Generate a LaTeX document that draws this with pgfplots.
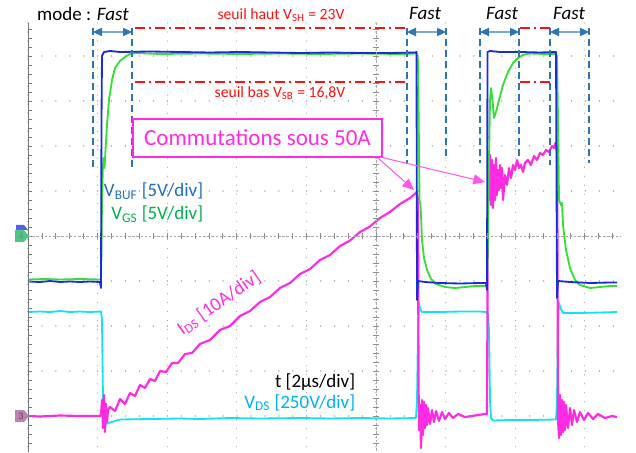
\documentclass[border=0pt]{standalone}
\usepackage{pgfplots}
\pgfplotsset{compat=1.18}
\usepackage{fontspec}
\setmainfont{Carlito}
\usetikzlibrary{arrows.meta}
\definecolor{cbuf}{HTML}{1A2ED8}
\definecolor{cgs}{HTML}{33E033}
\definecolor{cds}{HTML}{14E2EE}
\definecolor{cid}{HTML}{FF2BE3}
\definecolor{lbuf}{HTML}{1F6FC4}
\definecolor{lgs}{HTML}{00B050}
\definecolor{lds}{HTML}{00B0F0}
\definecolor{dblue}{HTML}{2E75B6}
\definecolor{lblue}{HTML}{7FA8DA}
\definecolor{gridc}{HTML}{A8A8A8}
\definecolor{thr}{HTML}{FF1010}
\newcommand\fsmall{\fontsize{9.4}{11}\selectfont}
\newcommand\fmid{\fontsize{11.4}{13}\selectfont}
\newcommand\fbig{\fontsize{13.8}{16}\selectfont}
\begin{document}
\begin{tikzpicture}
\path[use as bounding box] (0,0) rectangle (381.6pt,-271.8pt);
\begin{axis}[
  at={(16.8pt,-271.2pt)}, anchor=south west,
  scale only axis, width=355.2pt, height=257.4pt,
  xmin=28, xmax=620, ymin=23, ymax=452, y dir=reverse,
  axis line style={draw=none}, tick style={draw=none},
  xtick={28,97.6,167.2,236.8,306.4,376,445.6,515.2,584.8},
  ytick={56,101,146,191,236,281,326,371,416},
  xticklabels={}, yticklabels={},
  grid=major,
  major x grid style={gridc, line width=0.8pt, line cap=round, dash pattern=on 0.01pt off 5.4pt},
  major y grid style={gridc, line width=0.8pt, line cap=round, dash pattern=on 0.01pt off 8.352pt},
  every axis plot/.append style={line width=1.1pt, line join=round},
]
% V_DS (cyan)
\addplot[cds, mark=none] coordinates {
(28,312) (40,311.5) (50,312) (60,311) (70,312) (80,311.5) (90,312) (101,311.5) (102,320) (103,400) (104,420) (106,424) (110,422.5)
(120,419.5) (150,419) (180,418.5) (200,419) (230,418) (260,418.5) (300,418) (330,418.5) (360,418) (390,418.5) (416,418)
(417,400) (418,330) (419,303) (420,309) (422,312) (440,312) (460,311.5) (480,311.5) (486,312) (488,314) (489,330) (490,400)
(491,418) (493,420.5) (510,420) (530,420) (556,419.5) (557,400) (558,320) (559,303) (561,309) (563,313) (580,313) (600,312.5) (617,312)
};
% I_DS (magenta)
\addplot[cid, mark=none, line width=1.3pt] coordinates {
(28,416) (40,416.5) (60,415.5) (80,416) (100,416) (101,414) (102,400) (103,428) (104,395) (105,432) (106,404) (107,422) (108,410)
(110,407) (115,411) (120,399) (125,404) (130,393) (135,396) (140,385) (145,388) (150,379) (155,381) (160,371) (166,372) (172,363)
(178,363) (185,354) (192,353) (200,344) (210,340) (220,330) (230,326) (240,316) (250,311) (260,302) (270,297) (280,288) (290,283)
(300,274) (310,269) (320,260) (330,255) (340,246) (350,240.5) (360,232) (370,226.5) (380,218) (390,212) (400,204) (410,198) (417,192)
(418,200) (418.5,380) (419,430) (420,405) (421,448) (422,400) (423,435) (424,402) (425,428) (426,405) (427,425) (428,408) (430,424)
(432,410) (434,422) (436,411) (439,421) (442,412) (445,419) (449,413) (453,418) (458,414) (465,417) (475,415.5) (485,414) (487,414)
(487.5,300) (488,160) (489,200) (490,155) (491,205) (492,160) (493,208) (494,165) (495,200) (496,158) (497,195) (498,170) (499,190)
(500,165) (501,188) (502,168) (503,200) (505,175) (507,185) (509,168) (511,178) (513,165) (515,170) (517,160) (519,168) (521,165)
(523,172) (525,163) (528,160) (531,165) (534,156) (537,160) (540,153) (543,155) (546,150) (549,152) (552,146) (554,148) (555.5,143)
(557,148) (557.5,250) (558,420) (559,438) (560,395) (561,435) (562,400) (563,432) (564,402) (565,430) (566,405) (568,428) (570,408)
(572,425) (574,410) (577,422) (580,412) (584,420) (588,413) (593,419) (598,414) (605,418) (612,416) (617,417)
};
% V_GS (green)
\addplot[cgs, mark=none] coordinates {
(28,279.5) (45,279) (60,279.5) (80,279) (100,279.5) (101,280) (101.5,245) (102,200) (102.8,170) (103.5,158) (104.5,168) (105.5,150)
(107,125) (109,100) (112,80) (115,68) (120,61) (125,57) (130,54) (135,53) (160,54) (200,53.5) (240,54) (280,53.5) (320,54) (360,53.5)
(400,54) (417,53.5) (418,60) (419,150) (419.5,200) (420.5,205) (421,215) (422,240) (424,258) (427,270) (431,279) (436,284) (445,287)
(455,288) (465,287) (475,286) (486,286) (487,285) (488,240) (489,160) (490,100) (491,88) (492.5,100) (494,118) (496,112) (499,100)
(503,85) (508,72) (513,63) (518,58) (523,55) (530,53.5) (545,54) (556,54) (557,58) (558,120) (559,200) (561,205) (562,203) (563,225)
(566,250) (570,268) (575,280) (580,285) (590,288) (600,287) (610,286) (617,286)
};
% V_BUF (blue)
\addplot[cbuf, mark=none] coordinates {
(28,281.5) (40,282) (50,281) (60,282) (70,281.5) (80,282) (90,281.5) (100,282) (101,288) (101.5,120) (102,56) (104,52) (110,51)
(120,52) (150,51.5) (180,52) (210,52.5) (240,52) (270,52.5) (300,53) (330,52.5) (360,53) (390,53) (415,52.5) (416.5,52) (417,300)
(418,281) (425,282) (440,283) (460,283.5) (480,283) (486,283) (487,290) (487.5,52) (490,51) (500,52) (520,52) (540,52.5) (556,52)
(557,298) (558,281) (570,282) (590,283) (610,282.5) (617,282.5)
};
\end{axis}
\begin{scope}[x=0.6pt,y=-0.6pt]
% frame lines and ticks
\draw[gridc!70!black, line width=0.6pt] (28,23) -- (28,452);
\foreach \k in {-23,...,23} \draw[gridc!70!black, line width=0.5pt] (28,236+9*\k) -- ++(4,0);
\draw[gridc, line width=0.5pt, dash pattern=on 1.5pt off 1pt] (376,23) -- (376,452);
\foreach \k in {-23,...,23} \draw[gridc!85!black, line width=0.5pt] (373,236+9*\k) -- ++(6,0);
\draw[gridc, line width=0.5pt, dash pattern=on 1.5pt off 1pt] (28,236) -- (620,236);
\foreach \k in {-24,...,17} \draw[gridc!85!black, line width=0.5pt] (376+13.92*\k,233) -- ++(0,6);
% channel markers
\fill[cbuf!75] (16,225) -- (24,225) -- (28,230) -- (16,230) -- cycle;
\fill[lgs!70] (15,230) -- (24,230) -- (29,236) -- (24,242) -- (15,242) -- cycle;
\node[font=\fontsize{6}{6}\selectfont, gray] at (21,236) {4};
\fill[cid!35!gray!80] (15,410) -- (24,410) -- (29,416) -- (24,422) -- (15,422) -- cycle;
\node[font=\fontsize{6}{6}\selectfont, black!70] at (21,416) {3};
% red thresholds
\foreach \ya in {28,82} {
  \draw[thr, line width=1.2pt, dash pattern=on 6pt off 2.4pt on 1.2pt off 2.4pt] (135,\ya) -- (406,\ya);
  \draw[thr, line width=1.2pt, dash pattern=on 6pt off 2.4pt on 1.2pt off 2.4pt] (520,\ya) -- (550,\ya);
}
\node[thr, font=\fsmall, anchor=base] at (281,20) {seuil haut V\textsubscript{SH} = 23V};
\node[thr, font=\fsmall, anchor=base] at (280,98) {seuil bas V\textsubscript{SB} = 16,8V};
% Fast markers
\foreach \xx/\yy in {93/168,132/168,407/163,446/160,480/163,519/160,550/165,589/163}
  \draw[dblue, line width=1.3pt, dash pattern=on 4pt off 2.6pt] (\xx,28) -- (\xx,\yy);
\foreach \a/\b in {93/132,407/446,480/519,550/589}
  \draw[lblue, line width=0.7pt, {Triangle[length=5.4pt,width=5pt,fill=dblue,color=dblue]}-{Triangle[length=5.4pt,width=5pt,fill=dblue,color=dblue]}] (\a,32) -- (\b,32);
\node[font=\fmid, anchor=base] at (83,21) {mode : \textit{Fast}};
\node[font=\fmid, anchor=base] at (425,20) {\textit{Fast}};
\node[font=\fmid, anchor=base] at (502,20) {\textit{Fast}};
\node[font=\fmid, anchor=base] at (569,20) {\textit{Fast}};
% commutation box
\draw[cid, line width=0.8pt, fill=white] (133,119) rectangle (382,157);
\node[cid, font=\fbig] at (257.5,138) {Commutations sous 50A};
\draw[cid!80, line width=0.6pt, -{Triangle[length=7pt,width=6pt]}] (378,158) -- (414,190);
\draw[cid!80, line width=0.6pt, -{Triangle[length=7pt,width=6pt]}] (380,157) -- (485,182);
% channel labels
\node[lbuf, font=\fmid, anchor=base east] at (209,197) {V\textsubscript{BUF} [5V/div]};
\node[lgs, font=\fmid, anchor=base east] at (209,220) {V\textsubscript{GS} [5V/div]};
\node[black, font=\fmid, anchor=base east] at (361,387) {t [2µs/div]};
\node[lds, font=\fmid, anchor=base east] at (361,408) {V\textsubscript{DS} [250V/div]};
\node[cid, font=\fmid, rotate=35] at (219,303) {I\textsubscript{DS} [10A/div]};
\end{scope}
\end{tikzpicture}
\end{document}
